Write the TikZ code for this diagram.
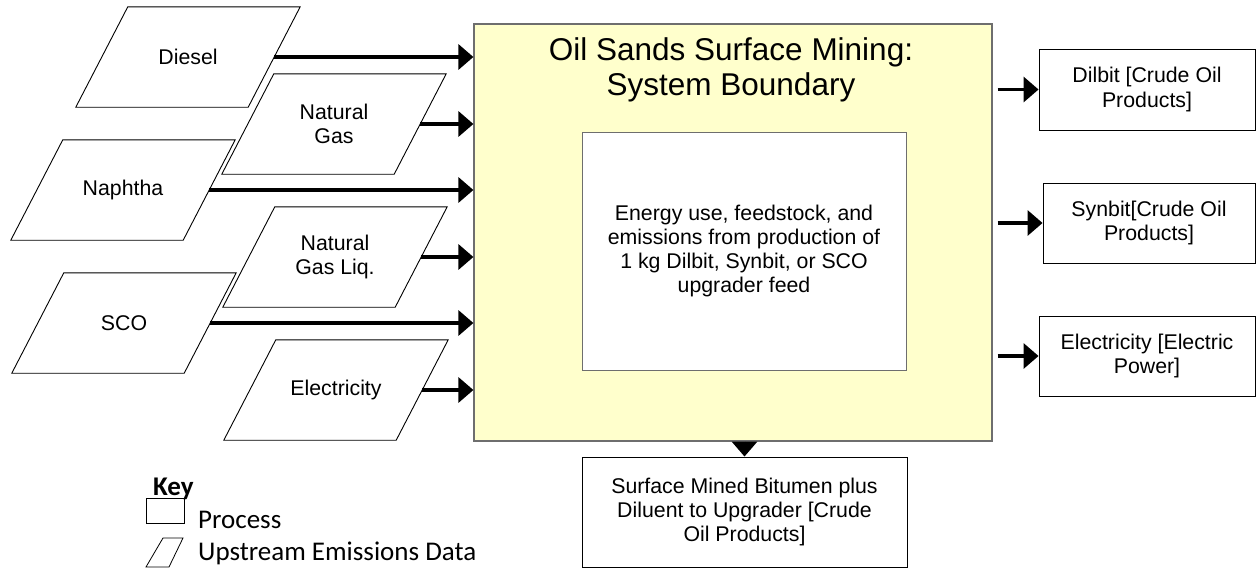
\documentclass[tikz,border=0pt]{standalone}
\usepackage{fontspec}
\setmainfont{Liberation Sans}
\newfontfamily\keyfont{Carlito}
\usetikzlibrary{arrows.meta,calc}
\pgfdeclarelayer{background}
\pgfsetlayers{background,main}
\definecolor{yellowbg}{HTML}{FFFFCC}
\definecolor{boxgray}{HTML}{6E6E6E}
\begin{document}
\begin{tikzpicture}[x=1pt,y=-1pt,
  para/.style={minimum width=172pt,minimum height=100pt,inner sep=0pt,align=center,
    font=\fontsize{21.3}{23.5}\selectfont},
  pshape/.style={draw=black,fill=white,line width=0.9pt},
  proc/.style={draw=black,line width=0.9pt,fill=white,inner sep=0pt,align=center,
    font=\fontsize{21.3}{24.3}\selectfont},
  arr/.style={line width=3.3pt,-{Triangle[length=15pt,width=25pt]}},
  keytext/.style={font=\keyfont\fontsize{27}{30}\selectfont,inner sep=0pt},
]
\useasboundingbox (0,0) rectangle (1256,573);

% upstream parallelograms
\node[para] (dsl) at (188,57) {Diesel};
\node[para] (ng) at (334,124) {Natural\\Gas};
\node[para] (nap) at (123,190) {Naphtha};
\node[para] (ngl) at (335,257) {Natural\\Gas Liq.};
\node[para] (sco) at (124,323) {SCO};
\node[para] (ele) at (336,390) {Electricity};
\begin{pgfonlayer}{background}
\foreach \n in {dsl,ng,nap,ngl,sco,ele}{
  \filldraw[pshape] ([xshift=26pt]\n.north west) -- ([xshift=26pt]\n.north east)
    -- ([xshift=-26pt]\n.south east) -- ([xshift=-26pt]\n.south west) -- cycle;
}
\end{pgfonlayer}

% system boundary
\node[draw=boxgray,fill=yellowbg,line width=1.2pt,minimum width=518pt,minimum height=417pt,inner sep=0pt] (main) at (733,232.5) {};
\node[font=\fontsize{31.5}{35}\selectfont,align=center] (title) at (731,70) {Oil Sands Surface Mining:\\System Boundary};
\node[proc,draw=boxgray,minimum width=324pt,minimum height=238pt] (inner) at (744,251)
  {Energy use, feedstock, and\\emissions from production of\\1 kg Dilbit, Synbit, or SCO\\upgrader feed};

% outputs
\node[proc,minimum width=216pt,minimum height=81pt] (dil) at (1147,89.5) {Dilbit [Crude Oil\\Products]};
\node[proc,minimum width=212pt,minimum height=80pt] (syn) at (1149,223) {Synbit[Crude Oil\\Products]};
\node[proc,minimum width=216pt,minimum height=80pt] (elp) at (1147,356) {Electricity [Electric\\Power]};
\node[proc,minimum width=325pt,minimum height=110pt] (bot) at (744.5,512)
  {Surface Mined Bitumen plus\\Diluent to Upgrader [Crude\\Oil Products]};

% input arrows
\foreach \n in {dsl,ng,nap,ngl,sco,ele}{
  \draw[arr] (\n.east) -- (\n.east -| main.west);
}
% output arrows
\foreach \n in {dil,syn,elp}{
  \draw[arr] ($(main.east |- \n.west)+(5,0)$) -- (\n.west);
}
\draw[arr] (main.south -| bot.north) -- (bot.north);

% key
\node[keytext,font=\keyfont\bfseries\fontsize{27}{30}\selectfont,anchor=base west] (key) at (153,495) {Key};
\node[draw=black,line width=0.8pt,minimum width=38pt,minimum height=25pt,inner sep=0pt,anchor=north west] (kproc) at (146,498) {};
\node[keytext,anchor=base west] (kproct) at (198,528) {Process};
\draw[line width=0.8pt] (163,538) -- (183,538) -- (169,567) -- (146,567) -- cycle;
\node[keytext,anchor=base west] (kparat) at (198,560) {Upstream Emissions Data};
\end{tikzpicture}
\end{document}
